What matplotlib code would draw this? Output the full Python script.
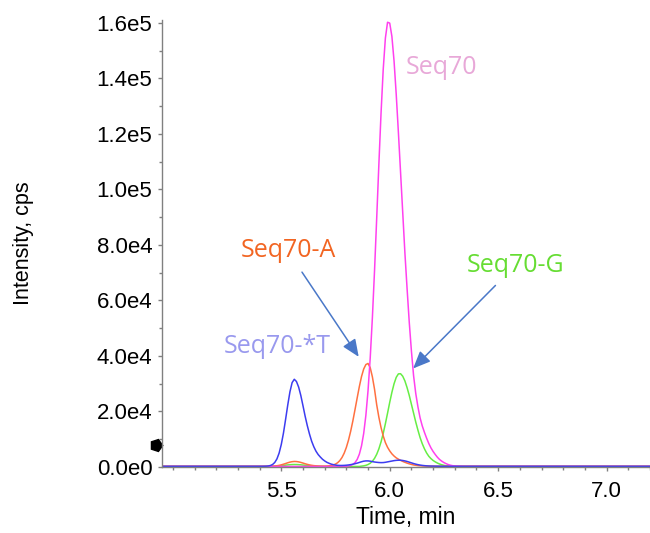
import matplotlib
matplotlib.use("Agg")
import matplotlib.pyplot as plt
import numpy as np
from matplotlib.ticker import MultipleLocator, FixedLocator, FuncFormatter

# retention time grid (min), plus the flat baseline ends of the run
time = [4.95,
        5.40, 5.41, 5.42, 5.43, 5.44, 5.45, 5.46, 5.47, 5.48, 5.49,
        5.50, 5.51, 5.52, 5.53, 5.54, 5.55, 5.56, 5.57, 5.58, 5.59,
        5.60, 5.61, 5.62, 5.63, 5.64, 5.65, 5.66, 5.67, 5.68, 5.69,
        5.70, 5.71, 5.72, 5.73, 5.74, 5.75, 5.76, 5.77, 5.78, 5.79,
        5.80, 5.81, 5.82, 5.83, 5.84, 5.85, 5.86, 5.87, 5.88, 5.89,
        5.90, 5.91, 5.92, 5.93, 5.94, 5.95, 5.96, 5.97, 5.98, 5.99,
        6.00, 6.01, 6.02, 6.03, 6.04, 6.05, 6.06, 6.07, 6.08, 6.09,
        6.10, 6.11, 6.12, 6.13, 6.14, 6.15, 6.16, 6.17, 6.18, 6.19,
        6.20, 6.21, 6.22, 6.23, 6.24, 6.25, 6.26, 6.27, 6.28, 6.29,
        6.30, 6.31, 6.32, 6.33, 6.34, 6.35,
        7.20]

seq70_T = [250,
           250, 250, 265, 295, 370, 550, 910, 1640, 2920, 5000,
           8100, 12200, 17200, 22400, 27100, 30400, 31600, 30800, 28800, 25800,
           22100, 18300, 14900, 11900, 9300, 7300, 5700, 4500, 3600, 2800,
           2200, 1700, 1350, 1050, 850, 700, 600, 560, 560, 590,
           650, 740, 860, 1010, 1190, 1400, 1650, 1900, 2100, 2200,
           2200, 2100, 1950, 1800, 1700, 1620, 1580, 1600, 1700, 1850,
           2000, 2150, 2300, 2400, 2450, 2450, 2350, 2200, 2000, 1750,
           1500, 1250, 1030, 850, 700, 580, 490, 420, 370, 340,
           320, 300, 290, 280, 270, 260, 250, 250, 250, 250,
           250, 250, 250, 250, 250, 250,
           250]

seq70_A = [300,
           300, 300, 300, 300, 300, 310, 330, 380, 460, 590,
           780, 1010, 1260, 1530, 1760, 1920, 2000, 1970, 1850, 1660,
           1420, 1170, 950, 760, 610, 500, 430, 380, 350, 330,
           320, 370, 430, 550, 740, 1060, 1560, 2320, 3430, 4980,
           7050, 9700, 12900, 16600, 20700, 24900, 29000, 32600, 35300, 36900,
           37300, 35800, 32500, 28000, 22400, 17900, 14200, 11200, 8800, 7100,
           5800, 4750, 3950, 3300, 2820, 2400, 2020, 1700, 1400, 1150,
           930, 750, 620, 520, 450, 400, 360, 330, 310, 300,
           300, 300, 300, 300, 300, 300, 300, 300, 300, 300,
           300, 300, 300, 300, 300, 300,
           300]

seq70_G = [200,
           200, 200, 200, 200, 200, 210, 230, 260, 310, 380,
           470, 570, 670, 760, 830, 880, 900, 890, 850, 790,
           710, 620, 530, 450, 380, 320, 280, 250, 230, 215,
           205, 200, 200, 200, 200, 200, 200, 200, 200, 200,
           200, 200, 200, 200, 200, 200, 200, 320, 420, 600,
           890, 1360, 2070, 3120, 4590, 6550, 9060, 12100, 15600, 19400,
           23300, 26900, 30000, 32300, 33550, 33600, 32700, 31000, 28600, 25800,
           22600, 19400, 16200, 13300, 10600, 8400, 6570, 5060, 3880, 3030,
           2360, 1850, 1420, 1080, 810, 610, 440, 330, 260, 220,
           200, 200, 200, 200, 200, 200,
           200]

seq70 = [200,
         200, 200, 200, 200, 200, 200, 200, 200, 200, 200,
         200, 200, 200, 200, 200, 200, 200, 200, 200, 200,
         200, 200, 200, 200, 200, 200, 200, 200, 200, 200,
         200, 200, 200, 200, 200, 200, 200, 200, 220, 240,
         290, 385, 575, 940, 1600, 2740, 4630, 7620, 12100, 18600,
         27500, 39200, 53700, 70800, 89700, 109100, 127500, 143200, 154500, 160200,
         159900, 155100, 146200, 134200, 120500, 106100, 91600, 77100, 64300, 52200,
         41800, 32900, 26500, 21700, 17700, 14800, 12500, 10400, 8500, 6900,
         5600, 4500, 3500, 2700, 2100, 1600, 1200, 880, 640, 480,
         380, 320, 290, 260, 240, 220,
         200]

x_ticks = [5.5, 6.0, 6.5, 7.0]

fig = plt.figure(figsize=(6.5, 5.33), dpi=100)
ax = fig.add_axes([0.2492, 0.1238, 0.7508, 0.8386])

ax.plot(time, seq70_G, color='#66ee44', lw=1.1)
ax.plot(time, seq70_A, color='#ff7040', lw=1.1)
ax.plot(time, seq70, color='#ff40ee', lw=1.1)
ax.plot(time, seq70_T, color='#3c3cf0', lw=1.1)

ax.set_xlim(4.95, 7.2)
ax.set_ylim(0, 1.61e5)

for s in ['top', 'right']:
    ax.spines[s].set_visible(False)
for s in ['left', 'bottom']:
    ax.spines[s].set_color('#808080')
    ax.spines[s].set_linewidth(1)

ax.xaxis.set_major_locator(FixedLocator(x_ticks))
ax.xaxis.set_minor_locator(MultipleLocator(0.1))
ax.yaxis.set_major_locator(MultipleLocator(2e4))
ax.yaxis.set_minor_locator(MultipleLocator(1e4))


def sci(v, pos):
    if v == 0:
        return '0.0e0'
    e = int(np.floor(np.log10(abs(v))))
    return f'{v / 10**e:.1f}e{e}'


ax.yaxis.set_major_formatter(FuncFormatter(sci))
ax.xaxis.set_major_formatter(FuncFormatter(lambda v, p: f'{v:.1f}'))

tick_font = 'Liberation Sans'
ax.tick_params(which='major', length=3, width=1, color='#808080',
               labelsize=16, labelcolor='black')
ax.tick_params(which='minor', length=2.5, width=1, color='#808080')
ax.tick_params(axis='x', which='major', pad=7)
ax.tick_params(axis='y', which='major', pad=4)
for lab in ax.get_xticklabels() + ax.get_yticklabels():
    lab.set_fontfamily(tick_font)

ax.set_xlabel('Time, min', fontsize=16.5, family=tick_font, labelpad=3)
ax.set_ylabel('Intensity, cps', fontsize=15.5, family=tick_font)
ax.yaxis.set_label_coords(-0.263, 0.5)

# peak labels
lab_font = 'Open Sans'
ax.text(6.072, 141600, 'Seq70', color='#e8a8d8', fontsize=18,
        family=lab_font, va='baseline')
ax.text(5.311, 75600, 'Seq70-A', color='#f26522', fontsize=18,
        family=lab_font, va='baseline')
ax.text(5.234, 40900, 'Seq70-*T', color='#9999ee', fontsize=18,
        family=lab_font, va='baseline')
ax.text(6.355, 70200, 'Seq70-G', color='#66dd33', fontsize=18,
        family=lab_font, va='baseline')

arrow = dict(arrowstyle='-|>,head_length=0.7,head_width=0.3',
             color='#4a78c8', lw=1.1, mutation_scale=15, shrinkA=0, shrinkB=0)
ax.annotate('', xy=(5.857, 39700), xytext=(5.5955, 70200), arrowprops=arrow)
ax.annotate('', xy=(6.108, 35500), xytext=(6.4875, 65400), arrowprops=arrow)

# black marker on the y axis
ax.plot([-0.012], [7900], marker=(5, 0, -90), ms=9, color='black',
        transform=ax.get_yaxis_transform(), clip_on=False)

fig.savefig('out.png', dpi=100)
